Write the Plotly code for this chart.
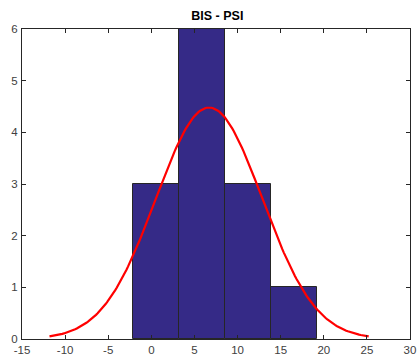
import numpy as np
import plotly.graph_objects as go

# Data
bin_edges = [-2.15, 3.2, 8.55, 13.87, 19.17]
counts = [3, 6, 3, 1]
fit_mu = 6.7      # normal fit mean
fit_sigma = 6.17  # normal fit std
x_ticks = [-15, -10, -5, 0, 5, 10, 15, 20, 25, 30]
y_ticks = [0, 1, 2, 3, 4, 5, 6]

edges = np.array(bin_edges)
centers = (edges[:-1] + edges[1:]) / 2
widths = np.diff(edges)
n = sum(counts)
binw = widths.mean()

xs = np.linspace(fit_mu - 3 * fit_sigma, fit_mu + 3 * fit_sigma, 200)
ys = n * binw / (fit_sigma * np.sqrt(2 * np.pi)) * np.exp(-0.5 * ((xs - fit_mu) / fit_sigma) ** 2)

fig = go.Figure()
fig.add_trace(go.Bar(x=centers, y=counts, width=widths,
                     marker=dict(color="#352a87", line=dict(color="#262626", width=1)),
                     showlegend=False))
fig.add_trace(go.Scatter(x=xs, y=ys, mode="lines",
                         line=dict(color="#ff0000", width=2.2), showlegend=False))

axis_common = dict(showgrid=False, zeroline=False, showline=True, linecolor="#262626",
                   linewidth=1, mirror="ticks", ticks="inside", ticklen=4, automargin=False,
                   tickcolor="#262626", tickfont=dict(family="Liberation Sans, Arial", size=11.5, color="#404040"))
fig.update_xaxes(range=[-15, 30], tickvals=x_ticks, ticktext=[str(v) for v in x_ticks],
                 ticklabelstandoff=0, **axis_common)
fig.update_yaxes(range=[0, 6], tickvals=y_ticks, ticktext=[str(v) for v in y_ticks],
                 ticklabelstandoff=1, **axis_common)

fig.update_layout(
    width=418, height=356,
    margin=dict(l=22, r=8, t=29, b=17),
    plot_bgcolor="white", paper_bgcolor="white",
    bargap=0,
    title=dict(text="<b>BIS - PSI</b>", x=0.52, xanchor="center", y=0.955, yanchor="middle",
               font=dict(family="Liberation Sans, Arial", size=12.5, color="#000000")),
)
fig.write_html("out.html")
